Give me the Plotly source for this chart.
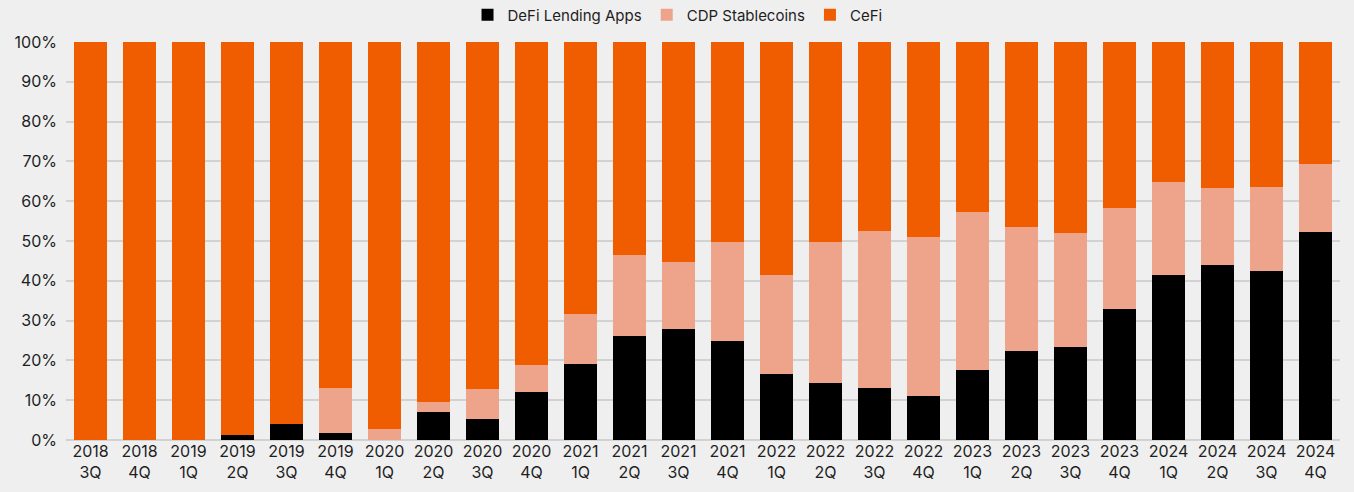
import plotly.graph_objects as go

quarters = ["2018<br>3Q", "2018<br>4Q", "2019<br>1Q", "2019<br>2Q", "2019<br>3Q", "2019<br>4Q",
            "2020<br>1Q", "2020<br>2Q", "2020<br>3Q", "2020<br>4Q", "2021<br>1Q", "2021<br>2Q",
            "2021<br>3Q", "2021<br>4Q", "2022<br>1Q", "2022<br>2Q", "2022<br>3Q", "2022<br>4Q",
            "2023<br>1Q", "2023<br>2Q", "2023<br>3Q", "2023<br>4Q", "2024<br>1Q", "2024<br>2Q",
            "2024<br>3Q", "2024<br>4Q"]

defi = [0, 0, 0, 1.2, 4.0, 1.8, 0, 7.1, 5.4, 12.1, 19.0, 26.1, 27.8, 24.9, 16.6, 14.2,
        13.0, 11.1, 17.6, 22.3, 23.4, 33.0, 41.4, 43.9, 42.5, 52.3]
cdp = [0, 0, 0, 0, 0, 11.3, 2.8, 2.5, 7.4, 6.7, 12.6, 20.4, 16.8, 24.9, 24.9, 35.6,
       39.5, 40.0, 39.6, 31.1, 28.7, 25.2, 23.5, 19.3, 21.1, 17.0]
cefi = [100, 100, 100, 98.8, 96.0, 86.9, 97.2, 90.4, 87.2, 81.2, 68.4, 53.5, 55.4, 50.2,
        58.5, 50.2, 47.5, 48.9, 42.8, 46.6, 47.9, 41.8, 35.1, 36.8, 36.4, 30.7]

fig = go.Figure()
fig.add_trace(go.Bar(x=quarters, y=defi, name="DeFi Lending Apps", marker_color="#000000"))
fig.add_trace(go.Bar(x=quarters, y=cdp, name="CDP Stablecoins", marker_color="#eda48b"))
fig.add_trace(go.Bar(x=quarters, y=cefi, name="CeFi", marker_color="#f05d00"))

fig.update_traces(marker_line_width=0)
fig.update_layout(
    barmode="stack",
    bargap=0.33,
    width=1354, height=492,
    margin=dict(l=66, r=14, t=42, b=52, autoexpand=False),
    paper_bgcolor="#efefef",
    plot_bgcolor="#efefef",
    font=dict(family="Inter, Roboto, sans-serif", size=16, color="#1e1e1e"),
    legend=dict(orientation="h", x=0.48, xanchor="center", y=1.068, yanchor="middle",
                font=dict(size=15), traceorder="normal", itemwidth=30,
                bgcolor="rgba(0,0,0,0)"),
    xaxis=dict(showgrid=False, tickangle=0, ticks="", showline=False),
    yaxis=dict(range=[0, 100], dtick=10, ticksuffix="%", gridcolor="#d2d2d2",
               gridwidth=1.5, zeroline=True, zerolinecolor="#d2d2d2", zerolinewidth=1.5,
               ticklen=0, ticks="", ticklabelstandoff=8),
)

# page body has a default 8px margin, drop it so the figure sits at 0,0
fig.write_html("out.html", config={"displayModeBar": False},
               post_script="document.body.style.margin='0';document.body.style.background='#efefef';")
